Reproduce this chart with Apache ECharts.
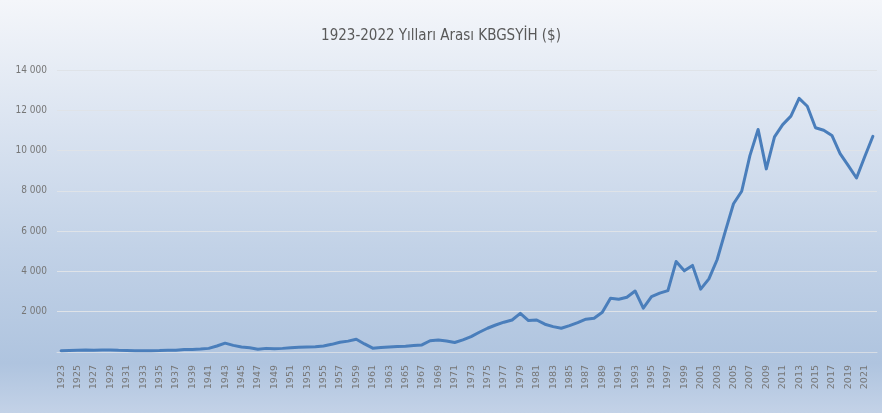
<!DOCTYPE html>
<html>
<head>
<meta charset="utf-8">
<script src="https://cdn.jsdelivr.net/npm/echarts@6/dist/echarts.min.js"></script>
<style>
html,body{margin:0;padding:0;background:#fff;}
#c{width:882px;height:413px;}
</style>
</head>
<body>
<div id="c"></div>
<script>
var titleText = '1923-2022 Yılları Arası KBGSYİH ($)';
var years = [];
for (var y = 1923; y <= 2022; y++) years.push(String(y));
var gdpPerCapita = [
  60, 75, 90, 100, 90, 95, 100, 85, 80, 60,
  60, 65, 70, 85, 90, 120, 130, 150, 180, 300,
  440, 330, 250, 210, 140, 180, 160, 180, 210, 230,
  250, 260, 300, 380, 480, 540, 630, 400, 190, 220,
  250, 270, 290, 320, 350, 560, 600, 550, 470, 600,
  760, 980, 1180, 1340, 1480, 1590, 1920, 1560, 1590, 1380,
  1260, 1180, 1310, 1460, 1630, 1680, 1970, 2670, 2620, 2720,
  3030, 2180, 2750, 2920, 3050, 4490, 4030, 4300, 3120, 3630,
  4580, 5990, 7360, 7980, 9750, 11050, 9090, 10680, 11290, 11710,
  12590, 12200, 11130, 11010, 10750, 9850, 9250, 8640, 9690, 10710
];
var yMin = 0, yMax = 14000, yStep = 2000;

var chart = echarts.init(document.getElementById('c'), null, {renderer: 'canvas'});
chart.setOption({
  animation: false,
  backgroundColor: {
    type: 'linear', x: 0, y: 0, x2: 0, y2: 1,
    colorStops: [
      {offset: 0, color: '#f4f6fa'},
      {offset: 0.3, color: '#dbe4f1'},
      {offset: 0.6, color: '#c2d2e7'},
      {offset: 0.88, color: '#afc4df'},
      {offset: 1, color: '#c3d2e7'}
    ]
  },
  title: {
    text: titleText,
    left: 'center',
    top: 24,
    textStyle: {
      fontFamily: '"DejaVu Sans Condensed", "Liberation Sans Narrow", "Liberation Sans", sans-serif',
      fontSize: 15,
      fontWeight: 'normal',
      color: '#595959'
    }
  },
  grid: {left: 57, right: 5, top: 70, bottom: 61, containLabel: false},
  xAxis: {
    type: 'category',
    data: years,
    boundaryGap: true,
    axisLine: {show: true, lineStyle: {color: '#d6dde6', width: 1}},
    axisTick: {show: false},
    axisLabel: {
      interval: 1,
      rotate: 90,
      margin: 13,
      fontFamily: '"DejaVu Sans", sans-serif',
      fontSize: 9.5,
      color: '#767676'
    },
    splitLine: {show: false}
  },
  yAxis: {
    type: 'value',
    min: yMin, max: yMax, interval: yStep,
    axisLine: {show: false},
    axisTick: {show: false},
    axisLabel: {
      margin: 10,
      fontFamily: '"DejaVu Sans Condensed", "Liberation Sans Narrow", "Liberation Sans", sans-serif',
      fontSize: 10,
      color: '#767676',
      formatter: function (v) {
        if (v === 0) return '';
        return String(v).replace(/\B(?=(\d{3})+(?!\d))/g, ' ');
      }
    },
    splitLine: {show: true, lineStyle: {color: '#dfe3e8', width: 1}}
  },
  series: [{
    type: 'line',
    data: gdpPerCapita,
    showSymbol: false,
    symbol: 'none',
    smooth: false,
    lineStyle: {color: '#4a7ebb', width: 3, join: 'round', cap: 'round'}
  }]
});
</script>
</body>
</html>
